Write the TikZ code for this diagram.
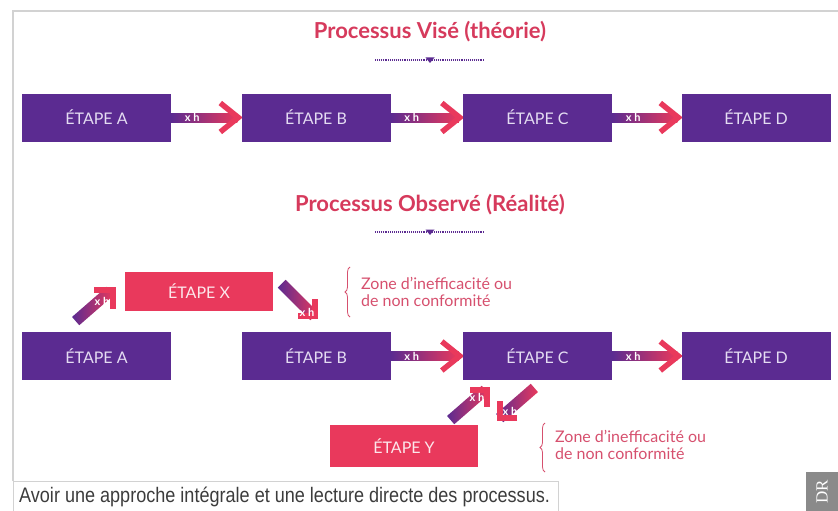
\documentclass[tikz,border=0pt]{standalone}
\usepackage{fontspec}
\setmainfont{Lato}
\newfontfamily\capfont{Liberation Sans}
\newfontfamily\drfont{Liberation Serif}
\usetikzlibrary{calc,backgrounds,decorations.pathreplacing}
\definecolor{purp}{RGB}{91,43,145}
\definecolor{pinkc}{RGB}{233,57,92}
\definecolor{titlec}{RGB}{214,58,92}
\definecolor{notec}{RGB}{214,80,110}
\definecolor{lav}{RGB}{228,220,242}
\definecolor{framegray}{RGB}{210,210,210}
\definecolor{drgray}{RGB}{138,138,138}
\definecolor{captext}{RGB}{60,60,60}
\begin{document}
\begin{tikzpicture}[x=1pt,y=-1pt,
  stepbox/.style={fill=purp, minimum width=149pt, minimum height=48pt, inner sep=0pt,
    font=\fontsize{16}{18}\selectfont, text=lav},
  pinkbox/.style={fill=pinkc, minimum width=148pt, minimum height=40pt, inner sep=0pt,
    font=\fontsize{16}{18}\selectfont, text=white!88!pinkc},
  titlenode/.style={font=\bfseries\fontsize{22}{26}\selectfont, text=titlec},
  dotline/.style={purp, line width=1.3pt, dash pattern=on 1pt off 0.9pt},
  xh/.style={font=\bfseries\fontsize{11}{12}\selectfont, text=white, inner sep=0pt},
  chev/.style={pinkc, line width=5.5pt},
  notenode/.style={font=\fontsize{16}{17}\selectfont, text=notec, align=left, anchor=west, inner sep=0pt},
  bracestyle/.style={notec, line width=0.8pt, decorate, decoration={brace, amplitude=5pt}},
  diagbar/.style={minimum width=46pt, minimum height=11pt, inner sep=0pt, left color=purp, right color=pinkc}
]
\useasboundingbox (0,0) rectangle (838,511);
% frame
\draw[framegray, line width=1.5pt] (13,481) -- (13,11) -- (838,11);

% titles
\node[titlenode] (t1) at (430,32) {Processus Visé (théorie)};
\draw[dotline] (375,60) -- (485,60);
\fill[purp] (425.5,57.5) -- (434.5,57.5) -- (430,63) -- cycle;
\node[titlenode] (t2) at (430,205) {Processus Observé (Réalité)};
\draw[dotline] (375,232) -- (485,232);
\fill[purp] (425.5,229.5) -- (434.5,229.5) -- (430,235) -- cycle;

% row 1
\node[stepbox] (A1) at (96.5,117.5) {ÉTAPE A};
\node[stepbox] (B1) at (316,117.5) {ÉTAPE B};
\node[stepbox] (C1) at (537.5,117.5) {ÉTAPE C};
\node[stepbox] (D1) at (756,117.5) {ÉTAPE D};
% row 2
\node[stepbox] (A2) at (96.5,356) {ÉTAPE A};
\node[stepbox] (B2) at (316,356) {ÉTAPE B};
\node[stepbox] (C2) at (537.5,356) {ÉTAPE C};
\node[stepbox] (D2) at (756,356) {ÉTAPE D};
% pink boxes
\node[pinkbox, minimum height=39pt] (X) at (199,291.5) {ÉTAPE X};
\node[pinkbox, minimum height=42pt] (Y) at (404,446) {ÉTAPE Y};

% horizontal connectors
\begin{scope}[on background layer]
\foreach \a/\b in {A1/B1,B1/C1,C1/D1,B2/C2,C2/D2}{
  \shade[left color=purp, right color=pinkc] ($(\a.east)+(0,-4.5)$) rectangle ($(\b.west)+(-4,4.5)$);
  \draw[chev] ($(\b.west)+(-21,-14.5)$) -- ($(\b.west)+(-3,0)$) -- ($(\b.west)+(-21,14.5)$);
}
\end{scope}
\foreach \a in {A1,B1,C1,B2,C2}{
  \node[xh] at ($(\a.east)+(21,0)$) {x h};
}

% diagonal arrows
\coordinate (T1) at (113,290);
\coordinate (T2) at (315,316);
\coordinate (T3) at (487,390);
\coordinate (T4) at (500,418);
\node[diagbar, rotate=41] (d1) at (93,306) {};
\draw[chev] ($(T1)+(-19,0)$) -- (T1) -- ($(T1)+(0,19)$);
\node[xh] at (102,301) {x h};
\node[diagbar, rotate=-45] (d2) at (298,300) {};
\draw[chev] ($(T2)+(-17,0)$) -- (T2) -- ($(T2)+(0,-17)$);
\node[xh] at (307,312) {x h};
\node[diagbar, rotate=41] (d3) at (468,405) {};
\draw[chev] ($(T3)+(-17,0)$) -- (T3) -- ($(T3)+(0,17)$);
\node[xh] at (477,397) {x h};
\node[diagbar, rotate=-139] (d4) at (517,403) {};
\draw[chev] ($(T4)+(17,0)$) -- (T4) -- ($(T4)+(0,-17)$);
\node[xh] at (510,411) {x h};

% notes
\draw[bracestyle] (350,317) -- (350,267);
\node[notenode] (n1) at (361,291.5) {Zone d'inefficacité ou\\de non conformité};
\draw[bracestyle] (545,472) -- (545,423);
\node[notenode] (n2) at (555,445) {Zone d'inefficacité ou\\de non conformité};

% caption
\draw[framegray, line width=1pt] (13,481) rectangle (558,512);
\node[anchor=west, inner sep=0pt, text=captext] (cap) at (19,497)
  {\scalebox{0.86}[1]{\capfont\fontsize{21}{23}\selectfont Avoir une approche intégrale et une lecture directe des processus.}};

% DR
\fill[drgray] (806,472) rectangle (838,511);
\node[rotate=90, text=white, font=\drfont\fontsize{17}{17}\selectfont] (dr) at (822,492) {DR};
\end{tikzpicture}
\end{document}
